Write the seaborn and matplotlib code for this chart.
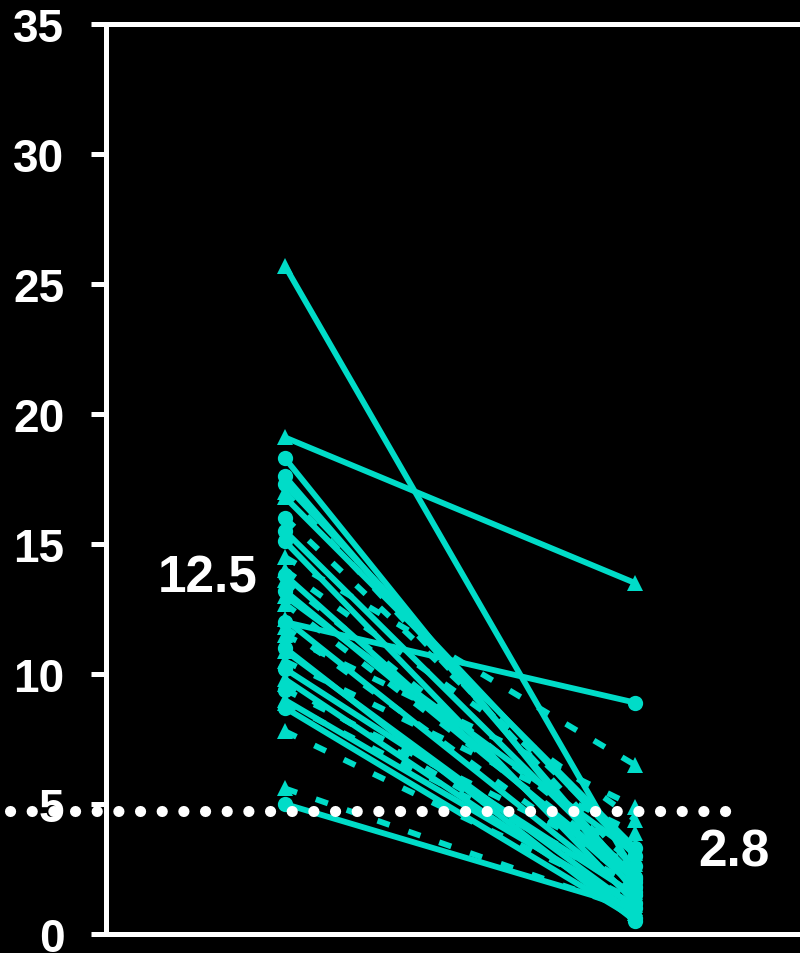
import numpy as np
import pandas as pd
import matplotlib
matplotlib.use("Agg")
import matplotlib.pyplot as plt
import seaborn as sns

# Paired measurements per subject: before (time 1) and after (time 2)
before = [25.7, 19.1, 18.3, 17.6, 17.3, 17.0, 16.8, 15.5, 15.1, 14.5,
          13.8, 13.6, 13.0, 12.7, 12.0, 12.1, 11.8, 11.5, 10.9, 10.5,
          10.2, 9.8, 9.4, 9.0, 8.7, 8.9, 7.8, 5.6, 5.0, 14.0,
          16.0, 11.0, 13.2, 9.6]
after = [2.3, 13.5, 1.6, 2.0, 3.0, 2.5, 3.3, 2.2, 1.2, 6.5,
         1.8, 2.7, 3.1, 2.4, 8.9, 1.4, 2.0, 4.9, 1.0, 3.9,
         1.5, 0.8, 2.6, 1.1, 0.6, 1.9, 1.3, 0.9, 1.0, 4.4,
         3.3, 0.5, 2.1, 1.6]
marker_kind = ["tri", "tri", "circ", "circ", "circ", "tri", "tri", "circ", "circ", "tri",
               "circ", "tri", "tri", "tri", "circ", "tri", "tri", "tri", "tri", "tri",
               "circ", "tri", "circ", "tri", "circ", "tri", "tri", "tri", "circ", "tri",
               "circ", "circ", "circ", "tri"]
line_kind = ["solid", "solid", "solid", "solid", "solid", "dash", "solid", "solid", "solid", "dash",
             "solid", "dash", "solid", "dash", "solid", "solid", "dash", "dash", "solid", "dash",
             "solid", "solid", "dash", "solid", "solid", "dash", "dash", "dash", "solid", "dash",
             "dash", "solid", "solid", "dash"]

mean_before_label = "12.5"
mean_after_label = "2.8"
threshold = 4.75

rows = []
for i, (b, a, m, l) in enumerate(zip(before, after, marker_kind, line_kind)):
    grp = f"{l}-{m}"
    rows.append({"subject": i, "time": 1, "value": b, "grp": grp})
    rows.append({"subject": i, "time": 2, "value": a, "grp": grp})
df = pd.DataFrame(rows)

teal = "#00DCC8"
sns.set_style("dark")
plt.rcParams["font.family"] = ["Liberation Sans", "DejaVu Sans"]
plt.rcParams["font.weight"] = "bold"

fig = plt.figure(figsize=(8, 9.54), dpi=100, facecolor="black")
ax = fig.add_axes([0.1325, 0.0199, 0.8675, 0.9539])
ax.set_facecolor("black")

levels = sorted(df["grp"].unique())
dashes = {g: ("" if g.startswith("solid") else (2.2, 3.4)) for g in levels}
markers = {g: ("o" if g.endswith("circ") else "^") for g in levels}

sns.lineplot(data=df, x="time", y="value", units="subject", estimator=None,
             style="grp", dashes=dashes, markers=markers, color=teal,
             linewidth=4.2, markersize=11, markeredgewidth=0, legend=False, ax=ax)

# reference threshold line
ax.plot([0.214, 2.27], [threshold, threshold], color="white", linewidth=8.0,
        linestyle=(0, (0.01, 1.94)), dash_capstyle="round", clip_on=False, zorder=5)

ax.text(0.923, 13.7, mean_before_label, color="white", fontsize=37, fontweight="bold",
        ha="right", va="center")
ax.text(2.18, 3.15, mean_after_label, color="white", fontsize=37, fontweight="bold",
        ha="left", va="center")

ax.set_xlim(0.489, 2.471)
ax.set_ylim(0, 35)
ax.set_yticks(np.arange(0, 36, 5))
ax.set_xticks([])
ax.set_xlabel("")
ax.set_ylabel("")
ax.grid(False)
for side in ["left", "bottom", "top"]:
    ax.spines[side].set_visible(True)
    ax.spines[side].set_color("white")
    ax.spines[side].set_linewidth(3.6)
ax.spines["right"].set_visible(False)
ax.tick_params(axis="y", left=True, direction="out", length=11, width=3.6, color="white",
               labelcolor="white", labelsize=33, pad=19)
for lab in ax.get_yticklabels():
    lab.set_fontweight("bold")

fig.savefig("out.png", dpi=100, facecolor="black")
